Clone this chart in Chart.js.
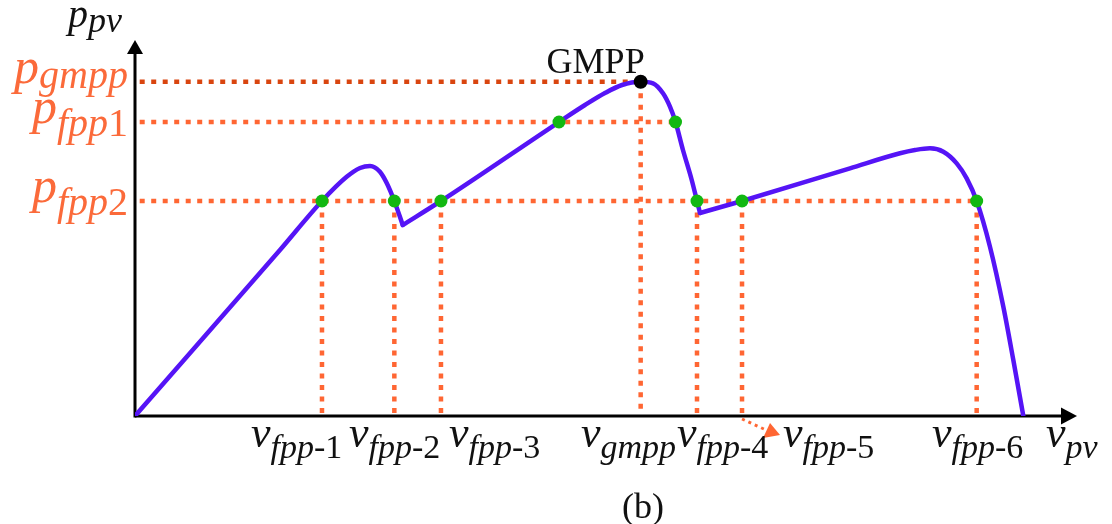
<!DOCTYPE html>
<html><head><meta charset="utf-8">
<script src="https://cdn.jsdelivr.net/npm/chart.js@4/dist/chart.umd.min.js"></script>
<style>html,body{margin:0;padding:0;background:#fff}#wrap{width:1112px;height:524px}</style>
</head><body><div id="wrap"><canvas id="c" width="1112" height="524"></canvas></div>
<script>
// ---- data (arbitrary units: v in 0..100, p in 0..100) ----
const CURVE_A_V = [0, 15.39, 19.85, 22.47, 23.89, 24.95, 26.0, 26.72, 27.53, 28.42];
const CURVE_A_P = [0, 44.15, 57.18, 63.6, 65.96, 66.5, 64.97, 61.97, 57.18, 50.8];
const CURVE_B_V = [28.42, 32.48, 45.01, 47.77, 49.89, 51.70, 53.68, 54.99, 56.05, 56.79, 57.38, 58.17, 59.10, 59.66, 59.98];
const CURVE_B_P = [50.8, 57.18, 78.19, 82.71, 85.9, 88.03, 88.9, 88.48, 85.82, 82.26, 78.19, 70.74, 62.77, 57.18, 53.99];
const CURVE_C_V = [59.98, 64.44, 75.9, 81.21, 82.80, 84.39, 85.81, 87.23, 88.29, 89.35, 90.76, 92.18, 93.24, 94.3];
const CURVE_C_P = [53.99, 57.18, 65.88, 69.87, 70.74, 71.2, 70.29, 67.2, 63.2, 57.18, 45.03, 29.07, 14.89, 0];

const GMPP_V = 53.68, GMPP_P = 88.9;
const P_FPP1 = 78.19, P_FPP2 = 57.18;
const FPP1_V = [45.01, 57.38];
const FPP2_V = [19.85, 27.53, 32.48, 59.66, 64.44, 89.35];
// vertical dotted markers (v value, p level)
const VLINE_V = [19.85, 27.53, 32.48, 53.68, 59.66, 64.44, 89.35];
const VLINE_P = [57.18, 57.18, 57.18, 88.9, 57.18, 57.18, 57.18];
// horizontal dotted markers (p level, v end)
const HLINE_P = [88.9, 78.19, 57.18];
const HLINE_END_V = [53.68, 57.38, 89.35];

// tick labels: [main, subscript italic part, subscript upright part]
const X_LABELS = [
  ['v','fpp','-1'], ['v','fpp','-2'], ['v','fpp','-3'], ['v','gmpp',''],
  ['v','fpp','-4'], ['v','fpp','-5'], ['v','fpp','-6'], ['v','pv','']
];
const Y_LABELS = [['p','gmpp',''], ['p','fpp','1'], ['p','fpp','2']];
const Y_AXIS_LABEL = ['p','pv',''];
const POINT_LABEL = 'GMPP';
const CAPTION = '(b)';

// ---- layout / style (not data) ----
const X_LABEL_LEFT = [251, 349, 449, 581, 677, 783, 932, 1046];
const COLORS = { curve:'#5514f6', dot:'#ff6633', dotDark:'#d9450f', green:'#12b812', label:'#fb6a3a', text:'#111' };
const SERIF = '"Liberation Serif", "Times New Roman", serif';

function pts(vs, ps){ return vs.map((v,i)=>({x:v, y:ps[i]})); }

const datasets = [];
// top-most first
datasets.push({ data:[{x:GMPP_V,y:GMPP_P}], showLine:false, pointRadius:7, pointBackgroundColor:'#000', pointBorderWidth:0 });
datasets.push({ data:[...FPP1_V.map(v=>({x:v,y:P_FPP1})), ...FPP2_V.map(v=>({x:v,y:P_FPP2}))], showLine:false,
  pointRadius:6.5, pointBackgroundColor:COLORS.green, pointBorderWidth:0 });
[ [CURVE_A_V,CURVE_A_P], [CURVE_B_V,CURVE_B_P], [CURVE_C_V,CURVE_C_P] ].forEach(([v,p])=>{
  datasets.push({ data:pts(v,p), showLine:true, borderColor:COLORS.curve, borderWidth:4.5, pointRadius:0,
    cubicInterpolationMode:'monotone', borderCapStyle:'round', borderJoinStyle:'round' });
});
HLINE_P.forEach((p,i)=>{
  datasets.push({ data:[{x:0.5,y:p},{x:HLINE_END_V[i],y:p}], showLine:true, borderColor:i===0?COLORS.dotDark:COLORS.dot,
    borderWidth:4.5, borderDash:[5,6.5], pointRadius:0, tension:0 });
});
VLINE_V.forEach((v,i)=>{
  datasets.push({ data:[{x:v,y:VLINE_P[i]},{x:v,y:0.5}], showLine:true, borderColor:COLORS.dot,
    borderWidth:4.5, borderDash:[5,6.5], pointRadius:0, tension:0 });
});

function drawLabel(ctx, x, y, parts, color, mainSize, subSize, subDy, align){
  const [m, si, su] = parts;
  ctx.save(); ctx.fillStyle = color; ctx.textBaseline = 'alphabetic'; ctx.textAlign = 'left';
  const fM = `italic ${mainSize}px ${SERIF}`, fI = `italic ${subSize}px ${SERIF}`, fU = `${subSize}px ${SERIF}`;
  ctx.font = fM; const wM = ctx.measureText(m).width;
  ctx.font = fI; const wI = ctx.measureText(si).width;
  ctx.font = fU; const wU = ctx.measureText(su).width;
  let x0 = align === 'right' ? x - (wM + wI + wU) : x;
  ctx.font = fM; ctx.fillText(m, x0, y);
  ctx.font = fI; ctx.fillText(si, x0 + wM, y + subDy);
  ctx.font = fU; ctx.fillText(su, x0 + wM + wI, y + subDy);
  ctx.restore();
}

const deco = {
  id:'deco',
  beforeDatasetsDraw(chart){
    const ctx = chart.ctx, xs = chart.scales.x, ys = chart.scales.y;
    const ox = xs.getPixelForValue(0), oy = ys.getPixelForValue(0);
    const xEnd = xs.right, yTop = ys.top;
    ctx.save();
    ctx.strokeStyle = '#000'; ctx.fillStyle = '#000'; ctx.lineWidth = 3;
    ctx.beginPath(); ctx.moveTo(ox, oy); ctx.lineTo(xEnd - 12, oy); ctx.stroke();
    ctx.beginPath(); ctx.moveTo(ox, oy + 1.5); ctx.lineTo(ox, yTop + 10); ctx.stroke();
    ctx.beginPath(); ctx.moveTo(xEnd, oy); ctx.lineTo(xEnd - 16, oy - 8.5); ctx.lineTo(xEnd - 16, oy + 8.5); ctx.closePath(); ctx.fill();
    ctx.beginPath(); ctx.moveTo(ox, yTop); ctx.lineTo(ox - 8, yTop + 14); ctx.lineTo(ox + 8, yTop + 14); ctx.closePath(); ctx.fill();
    ctx.restore();
  },
  afterDatasetsDraw(chart){
    const ctx = chart.ctx, xs = chart.scales.x, ys = chart.scales.y;
    const ox = xs.getPixelForValue(0), oy = ys.getPixelForValue(0);
    // small dotted arrow from v_fpp-4 marker to v_fpp-5 label
    const ax = xs.getPixelForValue(FPP2_V[4]);
    ctx.save();
    ctx.strokeStyle = COLORS.dot; ctx.fillStyle = COLORS.dot; ctx.lineWidth = 3; ctx.setLineDash([3,4]);
    ctx.beginPath(); ctx.moveTo(ax, oy + 3); ctx.lineTo(ax + 24, oy + 14); ctx.stroke();
    ctx.setLineDash([]);
    ctx.beginPath(); ctx.moveTo(ax + 38, oy + 19); ctx.lineTo(ax + 21, oy + 22); ctx.lineTo(ax + 28, oy + 7); ctx.closePath(); ctx.fill();
    ctx.restore();
    // x tick labels
    X_LABELS.forEach((l,i)=> drawLabel(ctx, X_LABEL_LEFT[i], oy + 31, l, COLORS.text, 44, 34, 11, 'left'));
    // y tick labels
    Y_LABELS.forEach((l,i)=>{
      const py = ys.getPixelForValue(HLINE_P[i]);
      drawLabel(ctx, ox - 7, py + 1, l, COLORS.label, 50, 40, i===0?5:13, 'right');
    });
    drawLabel(ctx, ox - 13, 27, Y_AXIS_LABEL, '#111', 40, 36, 5, 'right');
    // GMPP point label
    ctx.save(); ctx.fillStyle = '#111'; ctx.font = `36px ${SERIF}`; ctx.textAlign = 'right'; ctx.textBaseline = 'alphabetic';
    ctx.fillText(POINT_LABEL, xs.getPixelForValue(GMPP_V) + 4, ys.getPixelForValue(GMPP_P) - 9);
    ctx.font = `36px ${SERIF}`; ctx.textAlign = 'center';
    ctx.fillText(CAPTION, 643, 518);
    ctx.restore();
  }
};

new Chart(document.getElementById('c'), {
  type:'scatter',
  data:{ datasets },
  options:{
    responsive:false, animation:false, devicePixelRatio:1,
    layout:{ padding:{ left:135, right:35, top:40, bottom:108 } },
    plugins:{ legend:{display:false}, tooltip:{enabled:false} },
    scales:{
      x:{ type:'linear', min:0, max:100, display:false },
      y:{ type:'linear', min:0, max:100, display:false }
    },
    elements:{ line:{ fill:false } }
  },
  plugins:[deco]
});
</script></body></html>
